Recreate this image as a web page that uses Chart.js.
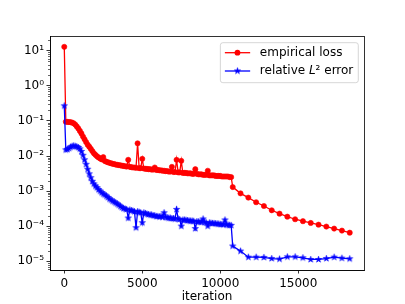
<!DOCTYPE html>
<html>
<head>
<meta charset="utf-8">
<script src="https://cdn.jsdelivr.net/npm/chart.js@4/dist/chart.umd.min.js"></script>
<style>
  html, body { margin: 0; padding: 0; background: #fff; }
  #wrap { width: 405px; height: 304px; }
</style>
</head>
<body>
<div id="wrap"><canvas id="chart" width="405" height="304"></canvas></div>
<script>
// iterations: every 100 up to 10700, then every 500
const iterations = [
  0, 100, 200, 300, 400, 500, 600, 700, 800, 900,
  1000, 1100, 1200, 1300, 1400, 1500, 1600, 1700, 1800, 1900,
  2000, 2100, 2200, 2300, 2400, 2500, 2600, 2700, 2800, 2900,
  3000, 3100, 3200, 3300, 3400, 3500, 3600, 3700, 3800, 3900,
  4000, 4100, 4200, 4300, 4400, 4500, 4600, 4700, 4800, 4900,
  5000, 5100, 5200, 5300, 5400, 5500, 5600, 5700, 5800, 5900,
  6000, 6100, 6200, 6300, 6400, 6500, 6600, 6700, 6800, 6900,
  7000, 7100, 7200, 7300, 7400, 7500, 7600, 7700, 7800, 7900,
  8000, 8100, 8200, 8300, 8400, 8500, 8600, 8700, 8800, 8900,
  9000, 9100, 9200, 9300, 9400, 9500, 9600, 9700, 9800, 9900,
  10000, 10100, 10200, 10300, 10400, 10500, 10600, 10700,
  10800, 11300, 11800, 12300, 12800, 13300, 13800, 14300,
  14800, 15300, 15800, 16300, 16800, 17300, 17800, 18300
];

const empiricalLoss = [
  13, 0.095, 0.094, 0.093, 0.092, 0.09, 0.086, 0.079, 0.07, 0.061,
  0.052, 0.044, 0.036, 0.03, 0.025, 0.021, 0.0185, 0.016, 0.0138, 0.012,
  0.0108, 0.0098, 0.0091, 0.0085, 0.008, 0.0093, 0.0072, 0.0069, 0.0066, 0.0064,
  0.0062, 0.006, 0.0059, 0.0057, 0.0056, 0.0055, 0.0054, 0.0053, 0.0052, 0.0051,
  0.005, 0.0078, 0.0049, 0.0048, 0.0047, 0.0047, 0.0046, 0.023, 0.0045, 0.0045,
  0.0083, 0.0044, 0.0043, 0.0043, 0.0042, 0.0042, 0.0041, 0.0041, 0.0047, 0.004,
  0.004, 0.0039, 0.0039, 0.0038, 0.0038, 0.0037, 0.0037, 0.0036, 0.0036, 0.0049,
  0.0035, 0.0035, 0.0078, 0.0034, 0.0034, 0.0073, 0.0033, 0.0033, 0.0033, 0.0032,
  0.0032, 0.0032, 0.0031, 0.0031, 0.0042, 0.0031, 0.003, 0.003, 0.003, 0.0029,
  0.0029, 0.0029, 0.0038, 0.0028, 0.0028, 0.0028, 0.0028, 0.0027, 0.0027, 0.0027,
  0.0027, 0.0026, 0.0026, 0.0026, 0.0026, 0.0026, 0.0025, 0.0025,
  0.0013, 0.00086, 0.00065, 0.00048, 0.000375, 0.000283, 0.000227, 0.000186,
  0.000157, 0.000138, 0.000123, 0.00011, 0.000097, 0.000085, 0.0000745, 0.000065
];

const relativeL2Error = [
  0.27, 0.015, 0.0155, 0.0165, 0.018, 0.019, 0.0195, 0.019, 0.0185, 0.0175,
  0.016, 0.0135, 0.0105, 0.0078, 0.0058, 0.0042, 0.0031, 0.0024, 0.0019, 0.0016,
  0.0014, 0.00125, 0.0011, 0.001, 0.0009, 0.00083, 0.00078, 0.00072, 0.00066, 0.0006,
  0.00056, 0.00052, 0.00049, 0.00046, 0.00043, 0.0004, 0.00037, 0.00034, 0.00032, 0.00031,
  0.0003, 0.00017, 0.00029, 0.00028, 0.00027, 0.00026, 0.00009, 0.00026, 0.00025, 0.00024,
  0.000125, 0.00024, 0.00023, 0.00022, 0.000215, 0.00021, 0.00021, 0.0002, 0.0002, 0.00019,
  0.00019, 0.000185, 0.00019, 0.00018, 0.00024, 0.00018, 0.000175, 0.00017, 0.00017, 0.000165,
  0.000165, 0.00016, 0.0003, 0.00016, 0.000155, 0.0001, 0.00015, 0.00015, 0.000148, 0.000145,
  0.000142, 0.00014, 0.00014, 0.000138, 0.000085, 0.000135, 0.000133, 0.00013, 0.00013, 0.00016,
  0.000128, 0.000125, 0.0001, 0.000124, 0.000122, 0.00012, 0.00012, 0.000118, 0.000116, 0.000115,
  0.000113, 0.000112, 0.00011, 0.00015, 0.00011, 0.000108, 0.000106, 0.000105,
  0.000027, 0.0000194, 0.000013, 0.000013, 0.0000128, 0.0000119, 0.0000115, 0.0000133,
  0.0000133, 0.0000125, 0.0000112, 0.0000112, 0.0000119, 0.000013, 0.0000122, 0.0000117
];

const xTicks = [0, 5000, 10000, 15000];
const yMajor = [1e-5, 1e-4, 1e-3, 1e-2, 1e-1, 1, 10];
const yLabels = ['10⁻⁵', '10⁻⁴', '10⁻³', '10⁻²', '10⁻¹', '10⁰', '10¹'];
const xRange = [-915, 19215];
const yRange = [5.6e-6, 26.5];

Chart.defaults.font.family = '"DejaVu Sans", sans-serif';
Chart.defaults.font.size = 12;
Chart.defaults.color = '#000';

function makeStar(color, R) {
  const size = Math.ceil(2 * R + 2);
  const c = document.createElement('canvas');
  c.width = c.height = size;
  const g = c.getContext('2d');
  g.fillStyle = color; g.strokeStyle = color; g.lineWidth = 0.6;
  g.beginPath();
  for (let k = 0; k < 10; k++) {
    const ang = -Math.PI / 2 + k * Math.PI / 5;
    const rad = k % 2 ? R * 0.382 : R;
    g.lineTo(size / 2 + rad * Math.cos(ang), size / 2 + rad * Math.sin(ang));
  }
  g.closePath(); g.fill(); g.stroke();
  return c;
}
const starImg = makeStar('#0000ff', 3.3);

function pts(vals) { return vals.map((v, i) => ({ x: iterations[i], y: v })); }

function yTickList() {
  const out = [];
  for (let e = -6; e <= 1; e++) {
    for (let k = 1; k <= 9; k++) {
      const v = k * Math.pow(10, e);
      if (v >= yRange[0] && v <= yRange[1]) out.push({ value: v, major: k === 1 });
    }
  }
  return out;
}

// frame on all four sides, short minor ticks, legend inside the axes
const decorPlugin = {
  id: 'decor',
  afterDraw(chart) {
    const { ctx, chartArea: a } = chart;
    const y = chart.scales.y;
    ctx.save();
    ctx.strokeStyle = '#000';
    ctx.lineWidth = 0.6;
    y.ticks.forEach(t => {
      if (t.major) return;
      const py = Math.round(y.getPixelForValue(t.value)) + 0.5;
      ctx.beginPath(); ctx.moveTo(a.left, py); ctx.lineTo(a.left - 2, py); ctx.stroke();
    });
    ctx.lineWidth = 0.8;
    ctx.strokeRect(Math.round(a.left) + 0.5, Math.round(a.top) + 0.5,
      Math.round(a.right - a.left), Math.round(a.bottom - a.top));

    // legend
    const font = '12px "DejaVu Sans"';
    const items = chart.data.datasets;
    let maxW = 0;
    items.forEach(ds => {
      let w = 0;
      ds.legendParts.forEach(p => { ctx.font = (p[1] ? 'italic ' : '') + font; w += ctx.measureText(p[0]).width; });
      maxW = Math.max(maxW, w);
    });
    const bw = 4.5 + 25.3 + 9.7 + maxW + 5, bh = 40;
    const bx = a.right - 5.7 - bw, by = a.top + 6.7;
    ctx.beginPath();
    ctx.roundRect(bx, by, bw, bh, 2.5);
    ctx.fillStyle = 'rgba(255,255,255,0.8)';
    ctx.fill();
    ctx.strokeStyle = '#cccccc'; ctx.lineWidth = 0.8;
    ctx.stroke();
    items.forEach((ds, i) => {
      const cy = by + 10 + i * 18.3;
      ctx.strokeStyle = ds.borderColor; ctx.lineWidth = ds.borderWidth;
      ctx.beginPath(); ctx.moveTo(bx + 4.5, cy); ctx.lineTo(bx + 29.8, cy); ctx.stroke();
      const mx = bx + 17.1;
      if (ds.pointStyle === 'circle') {
        ctx.fillStyle = ds.borderColor;
        ctx.beginPath(); ctx.arc(mx, cy, ds.pointRadius + 0.3, 0, Math.PI * 2); ctx.fill();
      } else {
        ctx.drawImage(ds.pointStyle, mx - ds.pointStyle.width / 2, cy - ds.pointStyle.height / 2);
      }
      let tx = bx + 39.5;
      ctx.fillStyle = '#000'; ctx.textBaseline = 'middle'; ctx.textAlign = 'left';
      ds.legendParts.forEach(p => {
        ctx.font = (p[1] ? 'italic ' : '') + font;
        ctx.fillText(p[0], tx, cy);
        tx += ctx.measureText(p[0]).width;
      });
    });
    ctx.restore();
  }
};

new Chart(document.getElementById('chart'), {
  type: 'line',
  data: {
    datasets: [
      {
        label: 'empirical loss',
        legendParts: [['empirical loss', false]],
        data: pts(empiricalLoss),
        borderColor: '#ff0000', backgroundColor: '#ff0000',
        borderWidth: 1.3, pointStyle: 'circle', pointRadius: 2.6,
        pointBorderWidth: 0.6, tension: 0, order: 1
      },
      {
        label: 'relative L² error',
        legendParts: [['relative ', false], ['L', true], ['²', false], [' error', false]],
        data: pts(relativeL2Error),
        borderColor: '#0000ff', backgroundColor: '#0000ff',
        borderWidth: 1.3, pointStyle: starImg, pointRadius: 3,
        tension: 0, order: 0
      }
    ]
  },
  options: {
    responsive: false, animation: false, devicePixelRatio: 1,
    layout: { padding: { top: 36, right: 41, left: 0, bottom: 0 } },
    plugins: { legend: { display: false }, tooltip: { enabled: false } },
    scales: {
      x: {
        type: 'linear', min: xRange[0], max: xRange[1],
        afterBuildTicks: s => { s.ticks = xTicks.map(v => ({ value: v })); },
        afterFit: s => { s.height = 34; },
        ticks: { callback: v => String(v), autoSkip: false, maxRotation: 0, padding: 3 },
        grid: { drawOnChartArea: false, tickLength: 3.5, tickColor: '#000', tickWidth: 0.8 },
        border: { color: '#000', width: 0.8 },
        title: { display: true, text: 'iteration', font: { size: 12, lineHeight: 1.2 }, padding: { top: 0, bottom: 0 } }
      },
      y: {
        type: 'logarithmic', min: yRange[0], max: yRange[1],
        afterBuildTicks: s => { s.ticks = yTickList(); },
        afterFit: s => { s.width = 50; },
        ticks: {
          autoSkip: false, padding: 2.5,
          callback: (v, i, ticks) => {
            if (!ticks[i].major) return '';
            const j = yMajor.findIndex(m => Math.abs(Math.log10(m) - Math.log10(v)) < 1e-6);
            return j >= 0 ? yLabels[j] : '';
          }
        },
        grid: {
          drawOnChartArea: false, tickLength: 3.5, tickWidth: 0.8,
          tickColor: c => (c.tick && c.tick.major ? '#000' : 'rgba(0,0,0,0)')
        },
        border: { color: '#000', width: 0.8 }
      }
    }
  },
  plugins: [decorPlugin]
});
</script>
</body>
</html>
